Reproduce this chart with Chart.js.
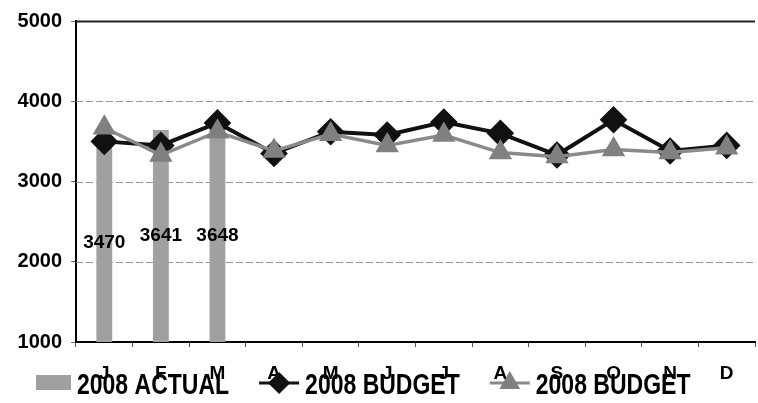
<!DOCTYPE html>
<html>
<head>
  <title>2008 Actual vs Budget</title>
  <script src="https://cdn.jsdelivr.net/npm/chart.js"></script>
  <style>
    html, body { margin: 0; padding: 0; background: #fff; overflow: hidden; }
    #wrap { width: 770px; height: 403px; }
  </style>
</head>
<body>
  <div id="wrap"><canvas id="myChart"></canvas></div>

  <script>
    const months = ['J', 'F', 'M', 'A', 'M', 'J', 'J', 'A', 'S', 'O', 'N', 'D'];
    const actual2008 = [3470, 3641, 3648, null, null, null, null, null, null, null, null, null];
    const budget2008 = [3500, 3450, 3730, 3350, 3620, 3580, 3740, 3600, 3330, 3770, 3380, 3450];
    const budget2008b = [3670, 3330, 3620, 3380, 3590, 3450, 3580, 3360, 3310, 3400, 3360, 3420];
    const yTicks = [1000, 2000, 3000, 4000, 5000];

    const FONT = '"Liberation Sans", Arial, sans-serif';

    const extras = {
      id: 'extras',
      beforeDatasetsDraw(chart) {
        const { ctx, chartArea } = chart;
        const y = chart.scales.y;
        ctx.save();
        yTicks.forEach(v => {
          if (v === y.min) return;
          const py = Math.round(y.getPixelForValue(v)) + 0.5;
          ctx.beginPath();
          if (v === y.max) {
            ctx.setLineDash([]);
            ctx.strokeStyle = '#222';
            ctx.lineWidth = 2;
          } else {
            ctx.setLineDash([7, 3]);
            ctx.strokeStyle = '#9a9a9a';
            ctx.lineWidth = 1;
          }
          ctx.moveTo(chartArea.left, py);
          ctx.lineTo(chartArea.right, py);
          ctx.stroke();
        });
        ctx.restore();
      },
      afterDatasetsDraw(chart) {
        const { ctx } = chart;
        const y = chart.scales.y;
        const meta = chart.getDatasetMeta(0);
        ctx.save();
        ctx.fillStyle = '#000';
        ctx.font = 'bold 19px ' + FONT;
        ctx.textAlign = 'center';
        ctx.textBaseline = 'middle';
        meta.data.forEach((bar, i) => {
          const v = actual2008[i];
          if (v == null) return;
          const mid = y.getPixelForValue((v + y.min) / 2);
          ctx.fillText(String(v), bar.x, mid);
        });
        ctx.restore();
      },
      afterDraw(chart) {
        const { ctx } = chart;
        const cy = 383;
        let x = 36;
        ctx.save();
        chart.data.datasets.forEach((ds, i) => {
          if (ds.type !== 'line') {
            ctx.fillStyle = ds.backgroundColor;
            ctx.fillRect(x, cy - 8, 35, 15);
            x += 35;
          } else {
            ctx.strokeStyle = ds.borderColor;
            ctx.lineWidth = 3;
            ctx.beginPath();
            ctx.moveTo(x, cy);
            ctx.lineTo(x + 40, cy);
            ctx.stroke();
            ctx.fillStyle = ds.pointBackgroundColor;
            ctx.strokeStyle = ds.pointBackgroundColor;
            Chart.helpers.drawPoint(ctx, { pointStyle: ds.pointStyle, radius: 9, rotation: 0, borderWidth: 1 }, x + 20, cy);
            x += 40;
          }
          x += 6;
          ctx.save();
          ctx.translate(x, 394);
          ctx.scale(1, 1.3);
          ctx.fillStyle = '#000';
          ctx.font = 'bold 23px ' + FONT;
          ctx.textBaseline = 'alphabetic';
          ctx.fillText(ds.label, 0, 0);
          const w = ctx.measureText(ds.label).width;
          ctx.restore();
          x += w + 30;
        });
        ctx.restore();
      }
    };

    document.addEventListener('DOMContentLoaded', () => {
      const ctx = document.getElementById('myChart').getContext('2d');
      new Chart(ctx, {
        type: 'bar',
        data: {
          labels: months,
          datasets: [{
            label: '2008 ACTUAL',
            data: actual2008,
            backgroundColor: '#a0a0a0',
            categoryPercentage: 1,
            barPercentage: 0.28,
            order: 2
          }, {
            type: 'line',
            label: '2008 BUDGET',
            data: budget2008,
            borderColor: '#111111',
            borderWidth: 4,
            pointStyle: 'rectRot',
            pointRadius: 11,
            pointBackgroundColor: '#111111',
            pointBorderColor: '#111111',
            tension: 0,
            order: 1
          }, {
            type: 'line',
            label: '2008 BUDGET',
            data: budget2008b,
            borderColor: '#8a8a8a',
            borderWidth: 3.5,
            pointStyle: 'triangle',
            pointRadius: 10,
            pointBackgroundColor: '#808080',
            pointBorderColor: '#808080',
            tension: 0,
            order: 0
          }]
        },
        options: {
          responsive: true,
          maintainAspectRatio: false,
          animation: false,
          layout: { padding: { top: 6, left: 0, right: 0, bottom: 0 } },
          plugins: {
            legend: { display: false },
            tooltip: { enabled: false }
          },
          scales: {
            x: {
              grid: { drawOnChartArea: false, drawTicks: true, tickLength: 5, color: '#555', offset: true },
              border: { display: true, color: '#000', width: 2 },
              ticks: {
                color: '#000',
                font: { family: FONT, size: 19, weight: 'bold' },
                padding: 15,
                maxRotation: 0,
                autoSkip: false
              },
              afterFit: s => { s.height = 61; }
            },
            y: {
              min: 1000,
              max: 5000,
              ticks: {
                stepSize: 1000,
                color: '#000',
                font: { family: FONT, size: 20, weight: 'bold' },
                padding: 9,
                callback: v => String(v)
              },
              grid: { drawOnChartArea: false, tickLength: 5, color: '#777' },
              border: { display: true, color: '#000', width: 2 },
              afterFit: s => { s.width = 76; }
            }
          }
        },
        plugins: [extras]
      });
    });
  </script>
</body>
</html>
